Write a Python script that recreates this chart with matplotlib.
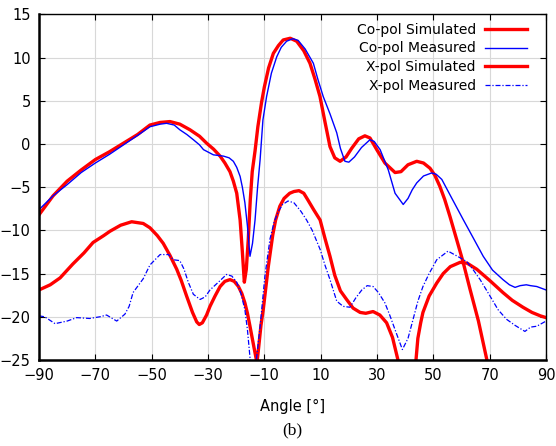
import numpy as np
import matplotlib.pyplot as plt

# co-pol simulated
co_sim_x = [-90, -85, -80, -75, -70, -65, -60, -55, -50.6, -47, -43.5, -40, -36.4, -33, -30.5, -28, -25.7, -24, -22.2,
            -21, -19.8, -18.6, -17.8, -17.1, -16.4, -15.7, -15, -14.3, -13.3, -12.3, -11, -10, -8.5, -6.8, -5, -3.3,
            -0.8, 1.5, 4, 6.2, 8, 9.75, 11.5, 13.3, 15, 16.9, 19, 21, 23.5, 25.7, 27.5, 30, 32.8, 36.4, 38.5, 41, 44.1,
            46.5, 48.8, 50.5, 52.3, 54, 55.9, 58.3, 60.5, 63, 66, 69]
co_sim_y = [-8.2, -6.0, -4.3, -3.0, -1.8, -0.9, 0.1, 1.1, 2.2, 2.5, 2.6, 2.3, 1.65, 0.9, 0.1, -0.6, -1.4, -2.2, -3.2,
            -4.3, -5.7, -8.8, -12.5, -16.0, -14.5, -11.0, -6.5, -3.2, -0.8, 2.0, 4.8, 6.6, 8.8, 10.5, 11.4, 12.05, 12.25,
            11.9, 10.8, 9.35, 7.5, 5.5, 2.6, -0.3, -1.6, -2.0, -1.5, -0.5, 0.6, 0.95, 0.7, -0.7, -2.2, -3.3, -3.2, -2.4,
            -2.0, -2.2, -2.8, -3.6, -4.9, -6.4, -8.4, -11.1, -13.6, -16.8, -20.5, -25.0]

# co-pol measured
co_meas_x = [-90, -85, -80, -75, -70, -65, -60, -55, -50.6, -47, -44.7, -42, -40, -37.5, -35.2, -33, -31.6, -28.1,
             -24.5, -22.5, -21, -19.8, -18.6, -17.8, -16.9, -16, -15.1, -14.2, -13.3, -12.4, -11.5, -10.5, -9.2, -7.5,
             -5.6, -4, -2.1, 0.1, 2, 4.5, 7.4, 9, 10.9, 13.3, 15.7, 17, 18.6, 20, 22, 24.5, 27.5, 29, 31.1, 34, 36.4,
             39.3, 41, 42.5, 44.1, 46.5, 49.4, 51, 53, 56.5, 60.6, 64.2, 67.7, 71, 74.7, 77, 79, 80.8, 83, 84.5, 86.7, 90]
co_meas_y = [-7.6, -6.0, -4.7, -3.3, -2.2, -1.2, -0.1, 1.0, 2.0, 2.3, 2.4, 2.2, 1.65, 1.1, 0.5, -0.1, -0.65, -1.25,
             -1.4, -1.6, -2.0, -2.7, -3.75, -5.0, -6.8, -9.5, -13.0, -11.5, -8.8, -5.0, -1.8, 2.8, 5.5, 8.2, 10.1, 11.2,
             11.9, 12.2, 12.0, 11.0, 9.35, 7.5, 5.5, 3.5, 1.3, -0.5, -2.0, -2.1, -1.5, -0.4, 0.5, 0.3, -0.65, -3.0, -5.7,
             -7.0, -6.3, -5.3, -4.5, -3.7, -3.35, -3.5, -4.1, -6.25, -8.75, -10.9, -13.0, -14.6, -15.7, -16.3, -16.6,
             -16.4, -16.3, -16.4, -16.5, -16.9]

# x-pol simulated (nan splits where it drops below the axis)
x_sim_x = [-90, -86, -82.5, -78, -74, -70.8, -67, -64.8, -61, -57.1, -53, -50.6, -48, -45.9, -43.5, -41.1, -39.5, -37.6,
           -35.5, -34, -33.1, -32, -30.5, -29.3, -27.5, -25.7, -24, -22.2, -20.7, -19.2, -18, -16.9, -16, -15.1, -14,
           -13, -12.6, -12, -11.2, -10.4, -9.5, -8.6, -8, -7, -6, -4.5, -3, -1, 0.5, 2.3, 4, 5.5, 7.5, 9.8, 11.5, 13.3,
           15, 17, 19.2, 21.5, 24, 26, 28.6, 31, 33.4, 35.5, 37.8, np.nan, 43.7, 44.5, 45.5, 46.3, 48.5, 51.2, 53.5, 56,
           59.5, 62, 65.4, 70, 74.7, 78, 81.8, 85, 88, 90]
x_sim_y = [-16.9, -16.3, -15.5, -13.9, -12.6, -11.4, -10.6, -10.1, -9.4, -9.0, -9.2, -9.7, -10.6, -11.5, -12.9, -14.5,
           -15.8, -17.6, -19.5, -20.6, -20.9, -20.7, -19.8, -18.8, -17.6, -16.5, -15.9, -15.7, -15.9, -16.5, -17.3,
           -18.4, -19.6, -21.1, -23.0, -24.7, -25.3, -23.5, -21.0, -19.2, -16.7, -14.2, -12.8, -10.5, -8.8, -7.2, -6.3,
           -5.7, -5.5, -5.4, -5.7, -6.5, -7.6, -8.8, -10.9, -13.0, -15.2, -17.0, -18.0, -19.0, -19.5, -19.6, -19.4,
           -19.8, -20.7, -22.4, -25.5, np.nan, -25.5, -22.5, -20.7, -19.5, -17.6, -16.1, -15.0, -14.2, -13.7, -13.8,
           -14.5, -15.8, -17.2, -18.1, -18.9, -19.5, -19.9, -20.1]

# x-pol measured
x_meas_x = [-90, -88, -84.3, -80, -76.6, -72, -68.3, -66, -62.4, -59.5, -58, -56.6, -53, -50.6, -47, -44, -42.3, -40,
            -38.5, -37, -35.2, -32.8, -31, -29.3, -26, -23.4, -21.5, -19.8, -18.3, -16.9, -16, -15.1, -14.3, -13,
            -11.5, -9.8, -8, -6.5, -5, -3.5, -1.6, 0.5, 3, 5, 7, 9.8, 11.5, 13.3, 15.7, 18, 20.4, 22.5, 24.6, 26.5, 28.6,
            30.5, 32.8, 34.5, 36.4, 39, 41, 42.8, 44.5, 46.3, 48.5, 51.2, 55.2, 58, 61.8, 64, 66.6, 70.1, 73, 76, 79,
            82.5, 84.5, 86.7, 90]
x_meas_y = [-19.9, -20.0, -20.8, -20.5, -20.1, -20.2, -20.0, -19.8, -20.5, -19.7, -18.8, -17.2, -15.6, -14.0, -12.8,
            -12.8, -13.4, -13.5, -14.5, -16.0, -17.4, -18.0, -17.7, -16.9, -15.9, -15.1, -15.3, -16.0, -17.3, -19.2,
            -21.5, -24.7, -26.0, -25.5, -21.1, -15.3, -11.0, -9.0, -7.8, -7.0, -6.6, -6.8, -7.8, -8.8, -10.0, -12.2,
            -14.0, -15.7, -18.2, -18.8, -18.9, -17.8, -16.9, -16.4, -16.5, -17.2, -18.4, -19.8, -21.5, -23.8, -22.5,
            -20.3, -18.2, -16.5, -15.0, -13.4, -12.4, -12.9, -13.6, -14.5, -15.7, -17.6, -19.2, -20.3, -21.0, -21.7,
            -21.2, -21.1, -20.5]

series_labels = ["Co-pol Simulated", "Co-pol Measured", "X-pol Simulated", "X-pol Measured"]
x_ticks = [-90, -70, -50, -30, -10, 10, 30, 50, 70, 90]
y_ticks = [-25, -20, -15, -10, -5, 0, 5, 10, 15]

fig = plt.figure(figsize=(5.56, 4.46), dpi=100)
ax = fig.add_axes([0.0701, 0.193, 0.912, 0.7745])

ax.plot(co_sim_x, co_sim_y, color="#ff0000", lw=2.4, label=series_labels[0])
ax.plot(co_meas_x, co_meas_y, color="#0000ff", lw=1.0, label=series_labels[1])
ax.plot(x_sim_x, x_sim_y, color="#ff0000", lw=2.4, label=series_labels[2])
ax.plot(x_meas_x, x_meas_y, color="#0000ff", lw=0.9, ls=(0, (4, 1.5, 1, 1.5)), label=series_labels[3])

ax.set_xlim(-90, 90)
ax.set_ylim(-25, 15)
ax.set_xticks(x_ticks)
ax.set_yticks(y_ticks)
ax.grid(True, color="#d8d8d8", lw=0.8)
ax.tick_params(direction="in", right=True, top=True, labelsize=10.5, length=4, pad=6, colors="black")
for side in ["left", "bottom"]:
    ax.spines[side].set_linewidth(1.8)
for side in ["top", "right"]:
    ax.spines[side].set_linewidth(1.0)

ax.set_xlabel("Angle [°]", fontsize=10.5, labelpad=11)
ax.legend(loc="upper right", frameon=False, markerfirst=False, fontsize=10, handlelength=3.0,
          labelspacing=0.33, borderaxespad=0.3, borderpad=0.3, handletextpad=0.65,
          bbox_to_anchor=(0.978, 1.0))

fig.text(0.525, 0.036, "(b)", family="Liberation Serif", fontsize=12.5, ha="center", va="center")

fig.savefig("out.png", dpi=100)
